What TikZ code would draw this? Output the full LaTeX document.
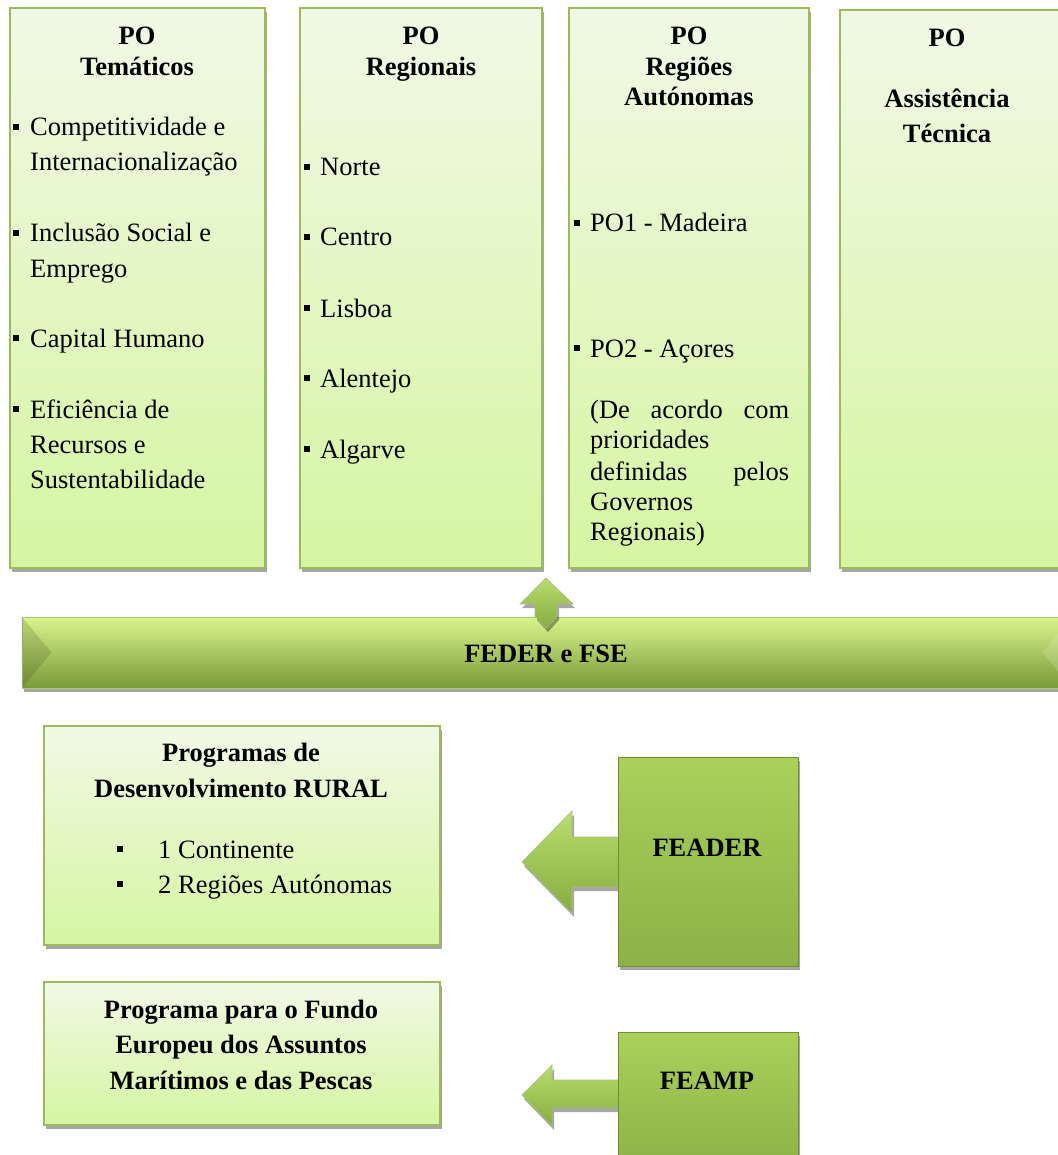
\documentclass[tikz,border=0pt]{standalone}
\usepackage{fontspec}
\setmainfont{Liberation Serif}
\usetikzlibrary{shadows}
\definecolor{boxedge}{HTML}{9BBB59}
\definecolor{boxtop}{HTML}{F1F9E6}
\definecolor{boxbot}{HTML}{D6F5A2}
\definecolor{bandtop}{HTML}{D8F48C}
\definecolor{bandmid}{HTML}{90B544}
\definecolor{bandbot}{HTML}{7A9A38}
\definecolor{darktop}{HTML}{A9D15B}
\definecolor{darkbot}{HTML}{8CB146}
\definecolor{darkedge}{HTML}{6F8F2E}
\definecolor{arrtop}{HTML}{B9DD6E}
\definecolor{arrbot}{HTML}{86AC40}
\begin{document}
\begin{tikzpicture}[x=1pt,y=1pt,
  shad/.style={drop shadow={shadow xshift=2pt,shadow yshift=-4pt,fill=black,opacity=0.35}},
  pobox/.style={draw=boxedge,line width=1.3pt,top color=boxtop,bottom color=boxbot,shad,inner sep=0pt},
  darkbox/.style={draw=darkedge,line width=1pt,top color=darktop,bottom color=darkbot,shad,inner sep=0pt},
  band/.style={draw=boxedge!80,line width=0.8pt,top color=bandtop,middle color=bandmid,bottom color=bandbot,shad,inner sep=0pt},
  blockarrow/.style={draw=darkedge!60,line width=0.6pt,top color=arrtop,bottom color=arrbot,shad},
  txt/.style={inner sep=0pt,font=\fontsize{26.5}{32}\selectfont},
  hd/.style={txt,font=\fontsize{26.5}{32}\selectfont\bfseries,anchor=base},
  it/.style={txt,anchor=base west}]
\useasboundingbox (0,0) rectangle (1057,-1155);
\newcommand{\bul}[2]{\fill[black] (#1,-#2+3) rectangle (#1+6,-#2-3);}

% top boxes
\node[pobox,minimum width=255,minimum height=560] (b1) at (137.5,-288) {};
\node[pobox,minimum width=242,minimum height=560] (b2) at (421,-288) {};
\node[pobox,minimum width=240,minimum height=560] (b3) at (689,-288) {};
\node[pobox,minimum width=235,minimum height=558] (b4) at (957.5,-289) {};

% band
\node[band,minimum width=1050,minimum height=71] (bnd) at (547,-652.5) {};
\fill[black,opacity=0.12] (bnd.north west) -- ([xshift=30pt]bnd.west) -- (bnd.south west) -- cycle;
\fill[white,opacity=0.15] (bnd.north east) -- ([xshift=-30pt]bnd.east) -- (bnd.south east) -- cycle;
\node[hd] (feder) at (546,-662) {FEDER e FSE};

% up arrow
\draw[blockarrow] (546,-578) -- (573,-604) -- (557,-604) -- (557,-616) -- (546,-628) -- (535,-616) -- (535,-604) -- (520,-604) -- cycle;

% box 1 text
\node[hd] (h1a) at (137,-45) {PO};
\node[hd] (h1b) at (137,-76) {Temáticos};
\bul{13}{127}\node[it] (t1a) at (30,-136) {Competitividade e};
\node[it] (t1b) at (30,-171) {Internacionalização};
\bul{13}{233}\node[it] (t1c) at (30,-242) {Inclusão Social e};
\node[it] (t1d) at (30,-277) {Emprego};
\bul{13}{338}\node[it] (t1e) at (30,-347) {Capital Humano};
\bul{13}{409}\node[it] (t1f) at (30,-418) {Eficiência de};
\node[it] (t1g) at (30,-453) {Recursos e};
\node[it] (t1h) at (30,-488) {Sustentabilidade};

% box 2 text
\node[hd] (h2a) at (421,-45) {PO};
\node[hd] (h2b) at (421,-76) {Regionais};
\bul{304}{167}\node[it] (t2a) at (320,-176) {Norte};
\bul{304}{237}\node[it] (t2b) at (320,-246) {Centro};
\bul{304}{308}\node[it] (t2c) at (320,-317) {Lisboa};
\bul{304}{378}\node[it] (t2d) at (320,-387) {Alentejo};
\bul{304}{449}\node[it] (t2e) at (320,-458) {Algarve};

% box 3 text
\node[hd] (h3a) at (689,-45) {PO};
\node[hd] (h3b) at (689,-76) {Regiões};
\node[hd] (h3c) at (689,-106) {Autónomas};
\bul{574}{223}\node[it] (t3a) at (590,-232) {PO1 - Madeira};
\bul{574}{348}\node[it] (t3b) at (590,-357) {PO2 - Açores};
\node[it] (t3c) at (590,-418) {\makebox[199pt][s]{(De acordo com}};
\node[it] (t3d) at (590,-448) {prioridades};
\node[it] (t3e) at (590,-480) {\makebox[199pt][s]{definidas pelos}};
\node[it] (t3f) at (590,-510) {Governos};
\node[it] (t3g) at (590,-540) {Regionais)};

% box 4 text
\node[hd] (h4a) at (947,-47) {PO};
\node[hd] (h4b) at (947,-108) {Assistência};
\node[hd] (h4c) at (947,-143) {Técnica};

% bottom-left boxes
\node[pobox,minimum width=396,minimum height=219] (rural) at (242,-835.5) {};
\node[hd] (r1) at (241,-761) {Programas de};
\node[hd] (r2) at (241,-797) {Desenvolvimento RURAL};
\bul{117}{849}\node[it] (r3) at (158,-858) {1 Continente};
\bul{117}{884}\node[it] (r4) at (158,-893) {2 Regiões Autónomas};

\node[pobox,minimum width=396,minimum height=143] (pesc) at (242,-1053.5) {};
\node[hd] (p1) at (241,-1018) {Programa para o Fundo};
\node[hd] (p2) at (241,-1053) {Europeu dos Assuntos};
\node[hd] (p3) at (241,-1089) {Marítimos e das Pescas};

% arrows to the left
\draw[blockarrow] (522,-862) -- (572,-811) -- (572,-837) -- (622,-837) -- (622,-887) -- (572,-887) -- (572,-913) -- cycle;
\draw[blockarrow] (522,-1095) -- (552,-1065) -- (552,-1080) -- (622,-1080) -- (622,-1108) -- (552,-1108) -- (552,-1126) -- cycle;

% fund boxes
\node[darkbox,minimum width=180,minimum height=209] (feader) at (708,-861.5) {};
\node[hd] (feadert) at (707,-856) {FEADER};
\node[darkbox,minimum width=180,minimum height=140] (feamp) at (708,-1102) {};
\node[hd] (feampt) at (707,-1089) {FEAMP};
\end{tikzpicture}
\end{document}
